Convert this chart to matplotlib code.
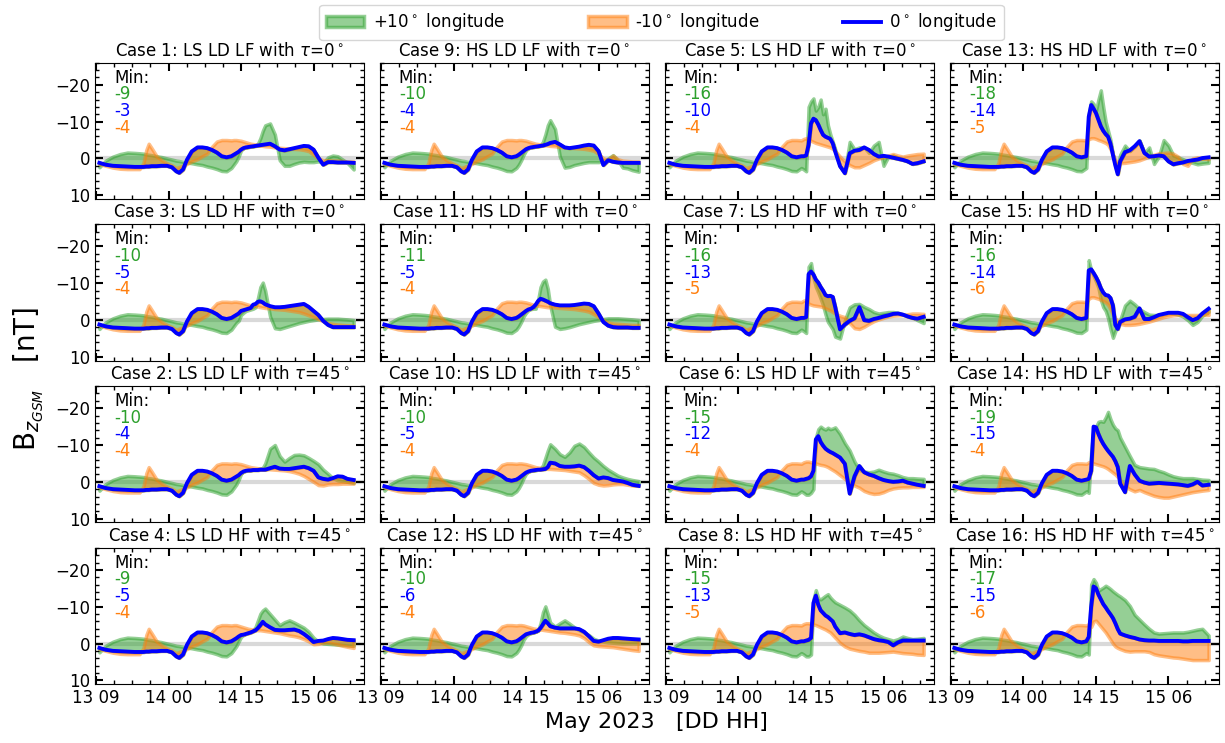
"""
Bz GSM at 0 / +-10 deg longitude for the 16 CME cases, May 2023
"""

import numpy as np
import matplotlib.pyplot as plt
from matplotlib.ticker import MultipleLocator, FuncFormatter

# hours since 13 May 2023 00:00
t_early = [9.7, 11, 12.5, 14, 15.5, 17, 18, 18.8, 19.4, 19.9, 20.5, 21.5, 22.5, 23.7,
           24.7, 25.6, 26.2, 27, 27.8, 28.8, 30, 31, 32, 33, 34, 35, 36, 37]
t_late = [37.5, 38, 38.5, 39, 39.5, 40, 40.5, 41, 41.5, 42, 42.5, 43, 43.5, 44,
          45, 46, 47, 48, 49, 50, 51, 52, 53, 54, 55, 56, 57, 58, 59, 60, 61, 62.3]

# common part before the shock (same in every case)
blue_early = [1.2, 1.7, 2.0, 2.1, 2.2, 2.3, 2.3, 2.3, 2.2, 2.2, 2.1, 2.1, 2.0, 2.0,
              2.4, 3.5, 3.9, 3.0, 0.4, -1.9, -3.0, -3.0, -2.8, -2.3, -1.6, -0.6, -0.3, -0.6]
green_early = [2.4, 0.6, -0.5, -1.2, -1.6, -1.5, -1.4, -1.3, -1.1, -1.0, -0.9, -0.6, -0.4, 0.0,
               0.3, 0.6, 0.7, 0.9, 1.1, 1.3, 1.6, 1.8, 2.2, 2.5, 2.9, 3.4, 3.5, 2.6]
orange_early = [1.5, 2.0, 2.5, 2.8, 2.9, 2.9, 2.9, 1.3, -2.3, -4.0, -2.8, -0.7, 0.4, 1.3,
                1.9, 2.6, 2.3, 1.9, 1.5, 0.8, 0.2, -0.6, -1.3, -3.2, -4.6, -5.0, -5.0, -4.9]

# late part, per case (green = +10 deg, blue = 0 deg, orange = -10 deg)
blue_c1 = [-1.0, -1.4, -1.8, -2.4, -2.8, -3.0, -3.1, -3.2, -3.3, -3.4, -3.5, -3.6, -3.7, -3.8,
           -4.0, -3.3, -2.4, -2.2, -2.5, -2.8, -3.1, -3.4, -3.3, -2.4, -0.2, 1.7, 1.0, 1.0, 1.1, 1.1, 1.1, 1.2]
green_c1 = [1.7, 0.8, -0.5, -2.2, -2.8, -3.0, -3.1, -3.2, -3.3, -3.5, -4.0, -5.5, -7.5, -9.0,
            -9.5, -6.5, 0.5, 2.0, 2.0, 1.5, 1.1, 0.9, 1.0, 1.0, 0.8, 1.2, -0.3, -0.8, -0.6, 0.3, 1.2, 3.0]
orange_c1 = [-5.0, -5.0, -4.9, -4.8, -4.6, -4.4, -4.2, -4.0, -3.9, -3.8, -3.7, -3.5, -3.4, -3.3,
             -3.2, -3.0, -2.9, -2.8, -2.7, -2.6, -2.5, -2.3, -2.0, -1.0, 0.0, 0.5, 0.5, 0.6, 0.6, 0.7, 0.8, 0.8]

blue_c9 = [-1.0, -1.5, -2.0, -2.5, -2.8, -3.0, -3.1, -3.2, -3.3, -3.4, -3.5, -3.7, -3.9, -4.2,
           -4.5, -3.8, -3.0, -2.8, -3.0, -3.2, -3.5, -3.7, -3.5, -2.0, 1.8, 0.5, 0.9, 1.1, 1.2, 1.2, 1.2, 1.2]
green_c9 = [1.7, 0.5, -1.0, -2.2, -2.8, -3.0, -3.1, -3.2, -3.3, -3.5, -4.5, -6.5, -9.0, -10.4,
            -8.0, -0.5, 2.5, 2.3, 1.8, 1.5, 1.2, 1.0, 1.0, 1.0, 0.8, 0.0, -0.9, 0.5, 2.5, 2.7, 3.2, 3.6]
orange_c9 = [-5.0, -5.0, -4.9, -4.8, -4.6, -4.4, -4.2, -4.0, -3.9, -3.8, -3.7, -3.6, -3.5, -3.4,
             -3.3, -3.1, -3.0, -2.9, -2.8, -2.7, -2.6, -2.4, -2.1, -1.2, 0.0, 0.3, -0.8, 0.2, 0.6, 0.7, 0.8, 0.8]

blue_c5 = [-0.6, -0.8, -3.7, -9.5, -10.8, -10.4, -9.2, -7.7, -6.4, -5.9, -5.6, -5.3, -4.1, -1.9,
           2.1, 4.0, -1.4, -2.1, -2.3, -3.0, -2.3, -1.2, -0.5, -0.7, -0.5, -0.2, 0.1, 0.4, 0.8, 1.5, 1.3, 0.8]
green_c5 = [3.0, 3.5, -14.0, -15.5, -16.3, -13.0, -14.0, -16.0, -12.0, -13.5, -9.0, -6.5, -4.5, -2.5,
            2.2, 3.5, -4.5, -2.5, -3.0, -3.0, -1.5, -3.5, -4.5, 2.0, -0.5, -0.8, -0.2, 0.2, 0.8, 1.3, 1.0, 0.8]
orange_c5 = [-5.3, -5.5, -5.0, -4.8, -4.5, -4.2, -4.0, -3.8, -3.6, -3.4, -3.2, -3.0, -2.6, -2.0,
             -0.5, 0.8, 1.8, 2.4, 2.4, 1.8, 1.2, 0.5, 0.0, -0.3, -0.8, -1.2, -0.8, -0.5, -0.8, -1.0, -1.2, -1.3]

blue_c13 = [-11.3, -14.5, -13.5, -12.3, -10.5, -8.7, -7.5, -6.6, -5.9, -4.0, -1.0, 1.9, 4.3, 0.8,
            -1.7, -2.2, -3.3, -4.7, -1.5, -0.5, -0.6, -0.8, -0.6, 0.8, 1.6, 1.3, 1.1, 0.7, 0.5, 0.3, -0.1, -0.3]
green_c13 = [-12.0, -15.5, -14.8, -13.0, -16.0, -18.5, -14.0, -10.0, -7.5, -5.0, -1.0, 1.5, 2.4, -1.0,
             -3.5, -2.0, -3.2, -4.9, -1.5, -3.0, 1.5, -0.5, -5.0, -3.5, -0.8, -0.3, 0.2, 0.8, 1.2, 1.6, 1.4, 1.2]
orange_c13 = [-5.2, -5.5, -5.5, -5.3, -5.0, -4.8, -4.5, -4.2, -3.7, -2.5, -1.0, 0.5, 1.0, 1.3,
              1.2, 1.0, 0.8, 0.5, 0.0, -0.5, -1.0, -1.4, -1.5, -1.6, -1.3, -0.5, 1.5, 2.0, 0.0, -0.3, 0.0, 0.2]

blue_c3 = [-1.0, -1.4, -1.8, -2.5, -2.7, -2.9, -3.1, -3.3, -4.2, -4.4, -5.0, -5.1, -4.8, -4.3,
           -3.8, -3.5, -3.5, -3.6, -3.8, -4.0, -4.2, -4.4, -3.6, -2.5, -1.4, 0.2, 1.3, 1.9, 1.9, 1.9, 1.9, 1.9]
green_c3 = [1.7, 0.8, 0.2, -1.4, -2.0, -2.5, -2.7, -2.9, -3.1, -3.5, -6.0, -9.0, -10.2, -8.0,
            -1.0, 2.2, 2.4, 2.0, 1.6, 1.2, 0.8, 0.5, 0.2, 0.0, -0.2, -0.3, -0.4, -0.4, -0.4, -0.3, -0.2, 0.0]
orange_c3 = [-5.0, -5.0, -4.9, -4.8, -4.6, -4.4, -4.2, -4.0, -3.9, -3.8, -3.7, -3.5, -3.4, -3.3,
             -3.2, -3.0, -2.9, -2.8, -2.6, -2.4, -2.2, -1.8, -1.3, -0.8, -0.3, 0.3, 0.8, 1.0, 1.2, 1.3, 1.4, 1.5]

blue_c11 = [-1.0, -1.5, -2.0, -2.5, -2.9, -3.1, -3.5, -4.2, -5.2, -5.8, -5.6, -5.3, -5.0, -4.6,
            -4.2, -4.0, -4.0, -4.0, -4.1, -4.3, -4.5, -4.4, -3.8, -1.8, 0.5, 1.5, 1.9, 2.0, 2.0, 2.0, 2.1, 2.1]
green_c11 = [1.7, 0.5, -1.0, -2.0, -2.7, -3.0, -3.1, -3.1, -5.5, -9.0, -10.5, -11.0, -8.5, -4.0,
             1.8, 2.4, 2.2, 1.9, 1.5, 1.1, 0.8, 0.5, 0.2, 0.0, -0.3, -0.5, -0.5, -0.5, -0.4, -0.3, -0.2, 0.0]
orange_c11 = [-5.0, -5.0, -4.9, -4.8, -4.6, -4.4, -4.2, -4.0, -3.9, -3.8, -3.7, -3.6, -3.5, -3.5,
              -3.4, -3.3, -3.2, -3.1, -3.0, -2.8, -2.6, -2.3, -1.6, -0.8, 0.0, 0.6, 0.9, 1.0, 1.1, 1.2, 1.3, 1.3]

blue_c7 = [-0.6, -0.8, -12.5, -13.2, -12.4, -11.0, -10.2, -9.0, -8.0, -6.8, -6.5, -6.6, -6.3, -3.6,
           2.5, 1.2, 0.2, -0.5, -3.5, 0.0, 0.2, -0.3, -0.6, -1.0, -1.3, -1.7, -1.8, -1.5, -1.0, -0.6, -0.4, -0.9]
green_c7 = [3.0, 3.5, -14.5, -15.5, -11.5, -9.0, -7.5, -5.8, -4.0, -1.5, 0.5, 1.5, 2.5, 4.5,
            5.0, 0.0, -3.5, -4.3, -4.4, -3.6, -3.0, -2.2, -1.8, -2.0, -2.2, -2.2, -2.0, -1.6, -1.2, -0.8, 0.0, 0.8]
orange_c7 = [-5.3, -5.5, -4.5, -4.2, -4.0, -3.9, -3.8, -3.7, -3.5, -3.2, -2.9, -2.6, -2.2, -1.8,
             -1.2, -0.8, 0.8, 2.2, 2.4, 1.8, 1.0, 0.3, -0.2, -0.6, -1.0, -1.2, -1.3, -1.4, -1.6, -1.8, -1.8, -1.7]

blue_c15 = [-13.5, -13.8, -12.8, -11.7, -10.4, -8.7, -7.5, -6.8, -6.7, -6.0, -4.0, 1.3, 2.4, 0.5,
            -0.2, -0.4, -0.9, -3.2, -0.3, -0.3, -0.8, -1.4, -1.7, -2.0, -2.0, -2.0, -1.7, -0.8, 0.0, -0.5, -1.8, -3.1]
green_c15 = [-16.3, -13.5, -12.0, -10.5, -8.8, -5.5, -3.5, -2.5, -0.5, 2.4, 4.8, 3.0, 1.5, 0.0,
             -4.0, -5.3, -4.3, -3.0, -2.2, -1.5, -1.4, -1.4, -1.7, -2.0, -1.8, -1.5, -1.0, 0.0, 1.3, 0.5, -1.2, -2.2]
orange_c15 = [-5.8, -6.2, -6.2, -6.0, -5.8, -5.5, -5.2, -4.8, -4.2, -3.0, -1.5, -0.5, 0.3, 1.0,
              1.3, 1.3, 1.2, 1.0, 0.7, 0.4, 0.0, -0.4, -0.8, -1.1, -1.3, -1.4, -1.4, -1.4, -1.4, -1.4, -1.4, -1.4]

blue_c2 = [-1.0, -1.4, -1.8, -2.4, -2.8, -3.0, -3.1, -3.1, -3.2, -3.2, -3.2, -3.3, -3.3, -3.3,
           -3.7, -4.1, -3.6, -3.5, -3.5, -3.7, -3.9, -4.1, -3.7, -3.0, -1.2, -0.8, -0.6, -1.0, -1.5, -1.4, -0.8, -0.5]
green_c2 = [1.7, 0.8, -0.5, -2.2, -2.8, -3.0, -3.1, -3.2, -3.3, -3.4, -3.5, -3.6, -3.8, -5.0,
            -9.0, -10.0, -7.0, -5.5, -6.5, -7.3, -7.4, -7.2, -6.5, -5.7, -4.8, -3.3, -2.2, -1.0, -0.4, -0.2, 0.0, 0.3]
orange_c2 = [-5.0, -5.0, -4.9, -4.8, -4.6, -4.4, -4.2, -4.0, -3.9, -3.8, -3.7, -3.6, -3.5, -3.5,
             -3.4, -3.3, -3.2, -3.1, -2.9, -2.6, -2.2, -1.6, -0.8, 0.0, 0.9, 1.0, 0.7, 0.6, 0.6, 0.5, 0.5, 0.5]

blue_c10 = [-1.0, -1.5, -2.0, -2.5, -2.8, -3.0, -3.1, -3.2, -3.3, -3.3, -3.4, -3.5, -4.0, -5.2,
            -5.0, -4.3, -4.1, -4.1, -4.2, -4.4, -4.0, -3.0, -1.8, -0.9, -1.2, -1.0, -0.5, -0.3, -0.1, 0.3, 0.8, 1.1]
green_c10 = [1.7, 0.5, -1.0, -2.2, -2.8, -3.0, -3.1, -3.2, -3.3, -3.6, -4.5, -6.5, -8.5, -10.2,
             -9.0, -7.5, -6.8, -8.0, -9.8, -10.4, -9.5, -8.0, -6.6, -5.5, -4.3, -3.3, -2.5, -1.7, -1.2, -0.8, -0.5, -0.2]
orange_c10 = [-5.0, -5.0, -4.9, -4.8, -4.6, -4.4, -4.2, -4.0, -3.9, -3.8, -3.7, -3.6, -3.5, -3.5,
              -3.4, -3.3, -3.2, -3.0, -2.8, -2.6, -1.8, -0.8, 0.3, 0.8, 1.0, 0.9, 0.7, 0.6, 0.6, 0.8, 1.0, 1.1]

blue_c6 = [-0.6, -0.8, -1.0, -1.5, -3.0, -11.5, -12.4, -10.8, -9.8, -9.0, -8.5, -8.1, -7.8, -7.4,
           -6.6, -4.9, 3.2, -1.5, -4.3, -2.6, -2.0, -1.6, -1.0, -0.5, -0.2, 0.0, -0.1, -0.3, 0.2, 0.5, 0.8, 1.1]
green_c6 = [3.0, 3.5, 3.5, 3.0, 2.0, -12.0, -14.3, -15.0, -14.5, -14.2, -14.7, -14.3, -14.5, -14.8,
            -13.0, -10.5, -8.5, -5.5, -3.2, -2.8, -2.6, -2.8, -3.3, -2.8, -2.4, -2.2, -1.8, -1.3, -1.0, -1.0, -0.9, -0.8]
orange_c6 = [-5.3, -5.5, -5.5, -5.3, -5.2, -5.0, -4.8, -4.6, -4.5, -4.3, -4.0, -3.6, -3.2, -2.8,
             -1.8, -0.8, 0.2, 1.0, 1.6, 2.5, 3.0, 3.3, 3.2, 2.8, 2.2, 1.8, 1.6, 1.5, 1.5, 1.4, 1.4, 1.4]

blue_c14 = [-0.8, -3.0, -15.0, -14.8, -13.0, -11.5, -10.3, -9.3, -8.4, -7.6, -6.8, -5.6, -4.0, 0.5,
            2.8, -4.3, -2.0, -0.3, 0.2, 0.5, 0.4, 0.3, 0.4, 0.5, 0.6, 0.7, 0.9, 1.1, 0.7, 0.0, 1.0, 0.8]
green_c14 = [3.0, -8.0, -14.5, -15.0, -16.3, -16.5, -16.3, -17.5, -19.0, -17.0, -15.5, -14.5, -14.0, -12.0,
             -9.5, -7.0, -4.6, -4.0, -3.8, -3.6, -3.5, -3.0, -2.6, -2.0, -1.5, -1.2, -1.0, -1.0, -1.0, -0.8, -0.6, -0.5]
orange_c14 = [-5.3, -5.5, -5.0, -4.8, -4.6, -4.4, -4.2, -3.9, -3.5, -3.0, -2.5, -2.0, -1.3, -0.5,
              1.2, 2.0, 2.6, 2.2, 2.8, 3.3, 3.8, 4.1, 4.3, 4.3, 4.0, 3.7, 3.4, 3.1, 2.8, 2.6, 2.4, 2.2]

blue_c4 = [-1.0, -1.4, -1.9, -2.3, -2.4, -2.6, -2.8, -3.0, -3.3, -3.6, -4.2, -5.0, -5.9, -5.2,
           -4.4, -3.7, -3.6, -3.6, -3.7, -3.8, -3.4, -2.6, -1.6, -0.4, -0.7, -0.8, -1.2, -1.5, -1.4, -1.2, -1.0, -0.9]
green_c4 = [1.7, 0.8, -0.5, -1.8, -2.3, -2.7, -3.0, -3.3, -3.6, -4.5, -6.3, -8.1, -9.0, -9.5,
            -8.0, -6.5, -5.0, -5.8, -6.3, -5.7, -5.0, -4.3, -3.2, -1.6, -0.5, 0.0, 0.1, 0.2, 0.3, 0.4, 0.5, 0.6]
orange_c4 = [-5.0, -5.0, -4.8, -4.6, -4.4, -4.2, -4.0, -3.9, -3.8, -3.7, -3.6, -3.6, -3.5, -3.4,
             -3.2, -3.0, -2.8, -2.5, -2.2, -2.0, -1.7, -1.2, -0.6, 0.2, 0.1, -0.2, -0.3, 0.0, 0.3, 0.6, 0.9, 1.2]

blue_c12 = [-1.0, -1.5, -2.0, -2.5, -2.7, -2.9, -3.0, -3.2, -3.5, -4.2, -5.2, -6.2, -5.5, -4.7,
            -4.3, -4.1, -4.1, -4.1, -4.1, -3.9, -3.2, -2.0, -0.7, -0.5, -0.9, -1.3, -1.5, -1.5, -1.4, -1.3, -1.2, -1.1]
green_c12 = [1.7, 0.5, -1.0, -2.0, -2.5, -2.8, -3.0, -3.2, -3.6, -5.5, -8.5, -10.1, -8.0, -5.7,
             -4.6, -5.5, -6.3, -5.4, -4.4, -3.6, -3.0, -2.3, -1.3, -0.8, -0.5, -0.3, -0.2, -0.1, 0.0, 0.0, 0.0, 0.0]
orange_c12 = [-5.0, -5.0, -4.9, -4.7, -4.5, -4.3, -4.1, -4.0, -3.9, -3.8, -3.7, -3.6, -3.5, -3.4,
              -3.2, -3.0, -2.9, -2.7, -2.5, -2.2, -1.5, -0.4, 0.5, 0.7, 0.8, 0.9, 1.0, 1.2, 1.4, 1.6, 1.8, 2.0]

blue_c8 = [-0.6, -0.8, -1.0, -1.5, -11.0, -13.0, -10.5, -9.0, -8.3, -7.6, -7.2, -6.6, -6.0, -4.6,
           -2.8, -3.0, -2.6, -2.3, -2.5, -2.2, -1.7, -1.2, -0.9, -0.7, -0.4, 0.5, -0.3, -0.8, -0.8, -0.8, -0.8, -0.8]
green_c8 = [3.0, 3.5, 3.5, 3.0, -12.0, -14.5, -12.3, -12.0, -12.5, -13.0, -13.4, -12.5, -11.8, -11.2,
            -10.5, -9.8, -9.0, -7.8, -6.3, -5.0, -4.0, -3.0, -2.2, -1.6, -1.2, -0.8, -1.2, -1.9, -1.5, -1.2, -1.3, -1.5]
orange_c8 = [-5.3, -5.5, -5.5, -5.3, -5.2, -5.0, -4.7, -4.4, -4.1, -3.8, -3.4, -3.0, -2.3, -1.6,
             -0.2, 0.8, 1.4, 1.7, 2.0, 2.2, 2.5, 2.5, 2.5, 2.4, 2.3, 2.2, 2.4, 2.6, 2.7, 2.8, 3.0, 3.1]

blue_c16 = [-1.8, -10.0, -15.5, -15.0, -13.3, -12.0, -10.7, -9.8, -8.8, -7.9, -6.9, -5.5, -3.9, -2.7,
            -2.2, -1.8, -1.5, -1.1, -0.9, -0.8, -0.8, -0.7, -0.7, -0.7, -0.7, -0.7, -0.6, -0.6, -0.7, -0.7, -0.7, -0.7]
green_c16 = [3.0, -16.0, -17.5, -16.5, -14.3, -14.8, -15.2, -15.7, -15.3, -14.8, -14.2, -13.7, -13.2, -12.8,
             -11.8, -10.2, -7.8, -6.5, -5.2, -4.0, -3.0, -2.7, -2.8, -2.9, -3.0, -3.0, -3.0, -3.2, -3.5, -3.8, -4.0, -2.2]
orange_c16 = [-5.3, -4.5, -6.0, -6.2, -5.4, -4.6, -3.8, -3.0, -2.0, -1.0, 0.0, 0.8, 1.2, 1.5,
              2.0, 2.2, 2.1, 2.1, 2.1, 2.3, 2.9, 3.2, 3.4, 3.6, 3.8, 3.9, 4.1, 4.3, 4.5, 4.5, 4.5, 4.5]

# panel order (row by row) and labels
case_order = [1, 9, 5, 13, 3, 11, 7, 15, 2, 10, 6, 14, 4, 12, 8, 16]
case_names = {1: 'LS LD LF', 9: 'HS LD LF', 5: 'LS HD LF', 13: 'HS HD LF',
              3: 'LS LD HF', 11: 'HS LD HF', 7: 'LS HD HF', 15: 'HS HD HF',
              2: 'LS LD LF', 10: 'HS LD LF', 6: 'LS HD LF', 14: 'HS HD LF',
              4: 'LS LD HF', 12: 'HS LD HF', 8: 'LS HD HF', 16: 'HS HD HF'}
case_tau = {c: (0 if c in (1, 9, 5, 13, 3, 11, 7, 15) else 45) for c in case_order}
# printed minima: +10, 0, -10 deg
min_green = {1: '-9', 9: '-10', 5: '-16', 13: '-18', 3: '-10', 11: '-11', 7: '-16', 15: '-16',
             2: '-10', 10: '-10', 6: '-15', 14: '-19', 4: '-9', 12: '-10', 8: '-15', 16: '-17'}
min_blue = {1: '-3', 9: '-4', 5: '-10', 13: '-14', 3: '-5', 11: '-5', 7: '-13', 15: '-14',
            2: '-4', 10: '-5', 6: '-12', 14: '-15', 4: '-5', 12: '-6', 8: '-13', 16: '-15'}
min_orange = {1: '-4', 9: '-4', 5: '-4', 13: '-5', 3: '-4', 11: '-4', 7: '-5', 15: '-6',
              2: '-4', 10: '-4', 6: '-4', 14: '-4', 4: '-4', 12: '-4', 8: '-5', 16: '-6'}

late = {
    1: (green_c1, blue_c1, orange_c1), 9: (green_c9, blue_c9, orange_c9),
    5: (green_c5, blue_c5, orange_c5), 13: (green_c13, blue_c13, orange_c13),
    3: (green_c3, blue_c3, orange_c3), 11: (green_c11, blue_c11, orange_c11),
    7: (green_c7, blue_c7, orange_c7), 15: (green_c15, blue_c15, orange_c15),
    2: (green_c2, blue_c2, orange_c2), 10: (green_c10, blue_c10, orange_c10),
    6: (green_c6, blue_c6, orange_c6), 14: (green_c14, blue_c14, orange_c14),
    4: (green_c4, blue_c4, orange_c4), 12: (green_c12, blue_c12, orange_c12),
    8: (green_c8, blue_c8, orange_c8), 16: (green_c16, blue_c16, orange_c16),
}

GREEN = '#2ca02c'
ORANGE = '#ff7f0e'
BLUE = 'blue'


def hour_label(h, pos):
    return f"{13 + int(h // 24)} {int(round(h % 24)):02d}"


fig, axes = plt.subplots(4, 4, figsize=(12.25, 7.43), dpi=100, sharex=True, sharey=True)
fig.subplots_adjust(left=0.0776, right=0.9951, top=0.9156, bottom=0.0794,
                    wspace=0.0595, hspace=0.187)

t = np.array(t_early + t_late)

for ax, case in zip(axes.flat, case_order):
    g_late, b_late, o_late = late[case]
    g = np.array(green_early + g_late)
    b = np.array(blue_early + b_late)
    o = np.array(orange_early + o_late)

    ax.axhline(0, color='#d9d9d9', lw=3, zorder=0)
    h_g = ax.fill_between(t, b, g, color=GREEN, alpha=0.5, lw=2.5)
    h_o = ax.fill_between(t, b, o, color=ORANGE, alpha=0.5, lw=2.5)
    h_b, = ax.plot(t, b, color=BLUE, lw=2.8)

    ax.set_title(f"Case {case}: {case_names[case]} with $\\tau$={case_tau[case]}$^\\circ$",
                 fontsize=12, pad=5)

    # minima box
    ax.text(0.07, 0.89, 'Min:', transform=ax.transAxes, fontsize=12, va='center')
    for k, (txt, col) in enumerate([(min_green[case], GREEN), (min_blue[case], BLUE),
                                    (min_orange[case], ORANGE)]):
        ax.text(0.07, 0.89 - 0.122 * (k + 1), txt, color=col, transform=ax.transAxes,
                fontsize=12, va='center')

    ax.tick_params(which='both', direction='in', top=True, right=True, labelsize=12)
    ax.tick_params(which='major', length=6, width=1.5)
    ax.tick_params(which='minor', length=3, width=1)

ax = axes[0, 0]
ax.set_xlim(8.8, 64.45)
ax.set_ylim(11, -26)
ax.set_yticks([-20, -10, 0, 10])
ax.yaxis.set_minor_locator(MultipleLocator(2))
ax.xaxis.set_major_locator(MultipleLocator(15, offset=9))
ax.xaxis.set_minor_locator(MultipleLocator(3.75, offset=1.5))
ax.xaxis.set_major_formatter(FuncFormatter(hour_label))

fig.legend([h_g, h_o, h_b],
           ['+10$^\\circ$ longitude', '-10$^\\circ$ longitude', '0$^\\circ$ longitude'],
           loc='upper center', bbox_to_anchor=(0.540, 0.998), ncol=3, fontsize=12,
           columnspacing=5.0, handlelength=2.3, handletextpad=0.5, borderaxespad=0.2)

fig.text(0.536, 0.028, 'May 2023   [DD HH]', ha='center', va='center', fontsize=16)
fig.text(0.024, 0.49, 'B$_{z_{GSM}}$   [nT]', ha='center', va='center',
         rotation=90, fontsize=20)

fig.savefig('out.png', dpi=100)
